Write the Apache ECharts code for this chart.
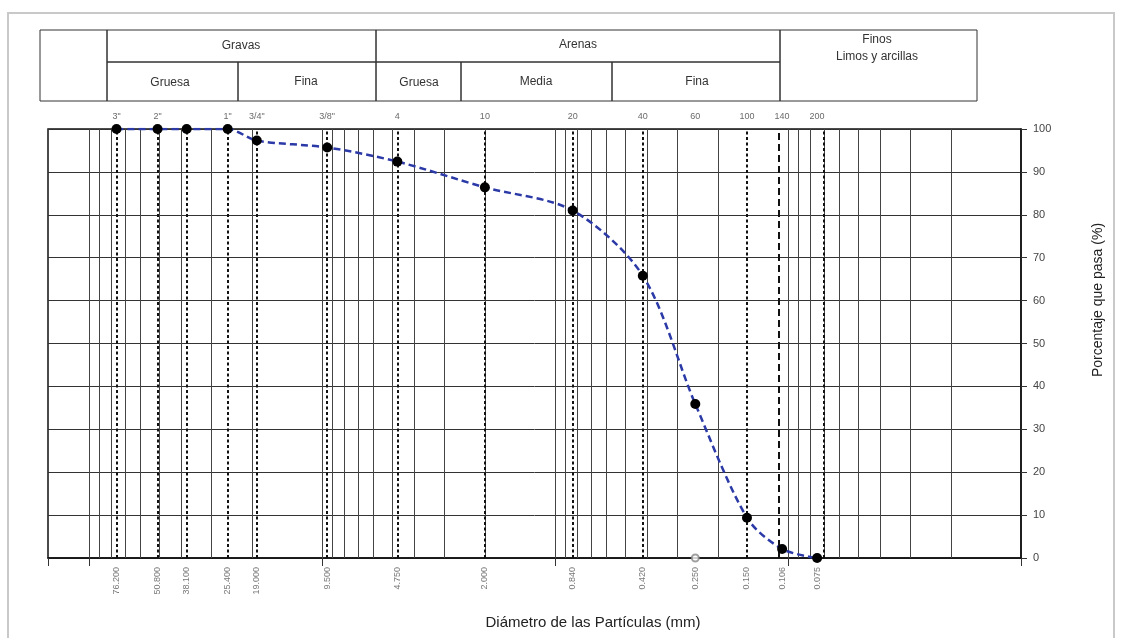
<!DOCTYPE html>
<html>
<head>
<meta charset="utf-8">
<script src="https://cdn.jsdelivr.net/npm/echarts@6/dist/echarts.min.js"></script>
<style>
  html, body { margin: 0; padding: 0; background: #fff; }
  #curva { width: 1123px; height: 638px; }
</style>
</head>
<body>
<div id="curva"></div>
<script>
// tamices y resultados de la granulometria
var tamices = ['3"', '2"', '', '1"', '3/4"', '3/8"', '4', '10', '20', '40', '60', '100', '140', '200'];
var diametros = [76.2, 50.8, 38.1, 25.4, 19.05, 9.5, 4.75, 2.0, 0.84, 0.42, 0.25, 0.15, 0.106, 0.075];
var etiquetasDiam = ['76.200', '50.800', '38.100', '25.400', '19.000', '9.500', '4.750', '2.000', '0.840', '0.420', '0.250', '0.150', '0.106', '0.075'];
var pasa = [100, 100, 100, 100, 97.3, 95.7, 92.4, 86.4, 81.0, 65.8, 35.9, 9.4, 2.1, 0];
var ticksY = [0, 10, 20, 30, 40, 50, 60, 70, 80, 90, 100];

var fuente = '"Liberation Sans", Arial, sans-serif';

function rejillaLog () {
  // lineas verticales 1..9 x 10^k entre 0.01 y 150
  var lineas = [];
  for (var k = -2; k <= 2; k++) {
    for (var m = 1; m <= 9; m++) {
      var v = m * Math.pow(10, k);
      if (v > 0.01 && v <= 150) lineas.push({ xAxis: v });
    }
  }
  return lineas;
}

function curvaGranulometrica () {
  // 1. instancia
  const myChart = echarts.init(document.getElementById('curva'));

  var puntos = diametros.map(function (d, i) { return [d, pasa[i]]; });
  var arriba = diametros.map(function (d, i) { return { value: [d, 100], name: tamices[i] }; });
  var abajo = diametros.map(function (d, i) { return { value: [d, 0], name: etiquetasDiam[i] }; });
  var lineasTamiz = diametros.filter(function (d) { return d !== 0.25; }).map(function (d) {
    return {
      xAxis: d,
      lineStyle: d === 0.106 ? { type: [7, 4], width: 2, color: '#111' } : { type: [3, 2.5], width: 2, color: '#111' }
    };
  });

  // cuadro de clasificacion
  var celdas = [
    [40, 30, 67, 71], [107, 30, 269, 32], [376, 30, 404, 32], [780, 30, 197, 71],
    [107, 62, 131, 39], [238, 62, 138, 39], [376, 62, 85, 39], [461, 62, 151, 39], [612, 62, 168, 39]
  ];
  var textos = [
    ['Gravas', 241, 46], ['Arenas', 578, 45], ['Finos', 877, 40], ['Limos y arcillas', 877, 57],
    ['Gruesa', 170, 83], ['Fina', 306, 82], ['Gruesa', 419, 83], ['Media', 536, 82], ['Fina', 697, 82]
  ];
  var graficos = [{
    type: 'rect', silent: true, shape: { x: 8, y: 13, width: 1106, height: 640 },
    style: { fill: 'none', stroke: '#c9c9c9', lineWidth: 2 }
  }];
  celdas.forEach(function (c) {
    graficos.push({
      type: 'rect', silent: true, shape: { x: c[0], y: c[1], width: c[2], height: c[3] },
      style: { fill: 'none', stroke: '#333', lineWidth: 1 }
    });
  });
  textos.forEach(function (t) {
    graficos.push({
      type: 'text', silent: true, x: t[1], y: t[2],
      style: { text: t[0], fill: '#333', font: '12px ' + fuente, textAlign: 'center', textVerticalAlign: 'middle' }
    });
  });
  graficos.push({
    type: 'text', silent: true, x: 593, y: 623,
    style: { text: 'Diámetro de las Partículas (mm)', fill: '#222', font: '15px ' + fuente, textAlign: 'center', textVerticalAlign: 'middle' }
  });
  graficos.push({
    type: 'text', silent: true, x: 1098, y: 300, rotation: Math.PI / 2,
    style: { text: 'Porcentaje que pasa (%)', fill: '#222', font: '14px ' + fuente, textAlign: 'center', textVerticalAlign: 'middle' }
  });

  // 2. configuracion
  const option = {
    animation: false,
    textStyle: { fontFamily: fuente },
    graphic: graficos,
    grid: {
      left: 48, right: 102, top: 129, bottom: 80,
      show: true, borderColor: '#111', borderWidth: 1.5
    },
    xAxis: {
      type: 'log',
      logBase: 10,
      min: 0.01,
      max: 150,
      inverse: true,
      axisLine: { show: true, lineStyle: { color: '#111', width: 1.5 } },
      axisTick: { show: true, length: 8, lineStyle: { color: '#333' } },
      axisLabel: { show: false },
      splitLine: { show: false }
    },
    yAxis: {
      type: 'value',
      position: 'right',
      min: 0,
      max: 100,
      interval: 10,
      axisLine: { show: true, lineStyle: { color: '#111', width: 1.5 } },
      axisTick: { show: true, length: 6, lineStyle: { color: '#333' } },
      axisLabel: {
        color: '#444', fontSize: 11, margin: 12,
        formatter: function (v) { return ticksY.indexOf(v) >= 0 ? String(v) : ''; }
      },
      splitLine: { show: true, lineStyle: { color: '#333', width: 1 } }
    },
    series: [
      {
        // rejilla logaritmica y nombres de tamices arriba
        name: 'tamices',
        type: 'scatter',
        z: 1,
        symbolSize: 0,
        silent: true,
        data: arriba,
        label: {
          show: true, position: 'top', distance: 8,
          formatter: '{b}', color: '#444', fontSize: 9
        },
        markLine: {
          silent: true,
          symbol: ['none', 'none'],
          label: { show: false },
          lineStyle: { color: '#444', width: 1, type: 'solid' },
          data: rejillaLog()
        }
      },
      {
        // lineas de tamiz y diametros abajo
        name: 'diametros',
        type: 'scatter',
        z: 2,
        symbolSize: 0,
        silent: true,
        data: abajo,
        label: {
          show: true, position: 'bottom', distance: 9, rotate: 90,
          align: 'right', verticalAlign: 'middle',
          formatter: '{b}', color: '#555', fontSize: 9
        },
        markLine: {
          silent: true,
          symbol: ['none', 'none'],
          label: { show: false },
          data: lineasTamiz
        }
      },
      {
        name: 'marca',
        type: 'scatter',
        z: 3,
        symbol: 'emptyCircle',
        symbolSize: 7,
        itemStyle: { color: '#888', borderColor: '#777', borderWidth: 1.5 },
        data: [[0.25, 0]]
      },
      {
        name: 'Porcentaje que pasa',
        type: 'line',
        z: 5,
        smooth: 0.3,
        symbol: 'circle',
        symbolSize: 10,
        itemStyle: { color: '#000' },
        lineStyle: { color: '#2b3aa6', width: 2.5, type: [7, 4] },
        data: puntos
      }
    ]
  };
  // 3. aplicar
  myChart.setOption(option);
  // 4. ajustar al tamano
  window.addEventListener('resize', function () {
    myChart.resize();
  });
}

curvaGranulometrica();
</script>
</body>
</html>
